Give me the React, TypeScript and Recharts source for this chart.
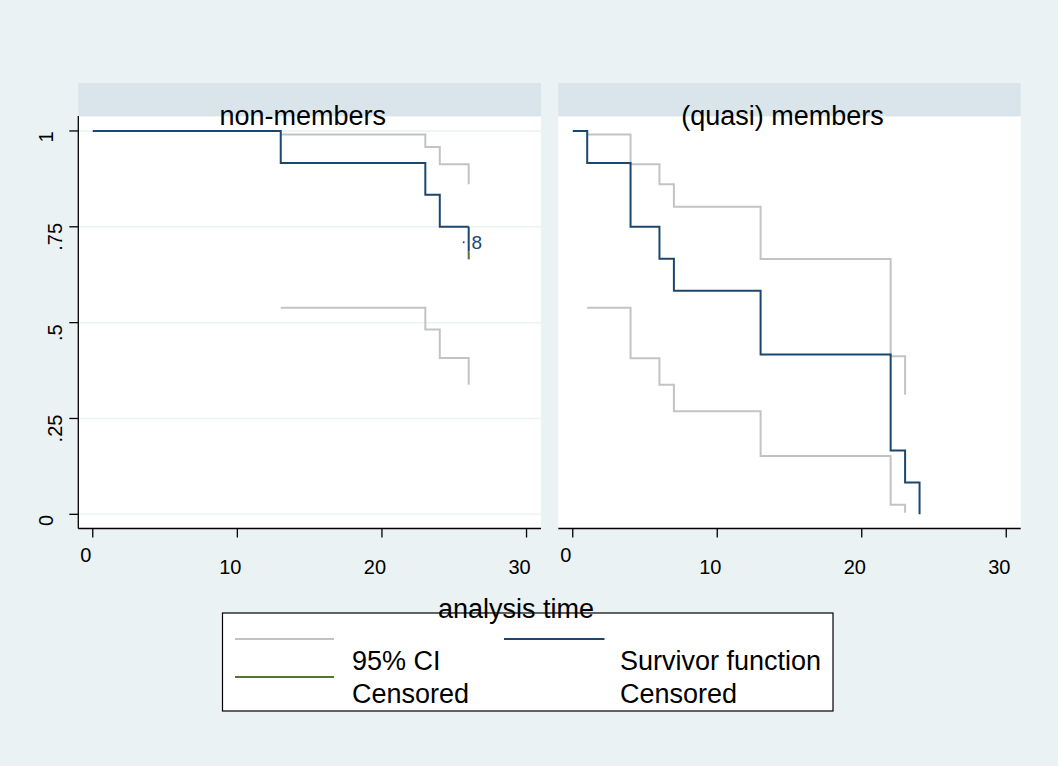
import React from 'react';
import { ComposedChart, Line, XAxis, YAxis, CartesianGrid, Scatter } from 'recharts';

// ---------- data ----------
const xTicks = [0, 10, 20, 30];
const yTicks = [0, 0.25, 0.5, 0.75, 1];
const yTickLabels = ['0', '.25', '.5', '.75', '1'];
const panelTitles = ['non-members', '(quasi) members'];
const xAxisTitle = 'analysis time';

// non-members
const leftSurvTimes = [0, 13, 23, 24, 26];
const leftSurvValues = [1, 0.9167, 0.8333, 0.75, 0.75];
const leftUpperTimes = [13, 23, 24, 26];
const leftUpperValues = [0.991, 0.958, 0.913, 0.861];
const leftLowerTimes = [13, 23, 24, 26];
const leftLowerValues = [0.539, 0.482, 0.408, 0.338];
const leftCensorTime = 26;
const leftCensorTickValues = [0.75, 0.686, 0.665];
const leftCensorLabelValue = 0.71;
const leftCensorCount = '8';

// (quasi) members
const rightSurvTimes = [0, 1, 4, 6, 7, 13, 22, 23, 24];
const rightSurvValues = [1, 0.9167, 0.75, 0.6667, 0.5833, 0.4167, 0.1667, 0.0833, 0];
const rightUpperTimes = [1, 4, 6, 7, 13, 22, 23];
const rightUpperValues = [0.991, 0.913, 0.861, 0.802, 0.666, 0.412, 0.312];
const rightLowerTimes = [1, 4, 6, 7, 13, 22, 23];
const rightLowerValues = [0.539, 0.407, 0.338, 0.269, 0.152, 0.025, 0.004];

const legendLabels = ['95% CI', 'Censored', 'Survivor function', 'Censored'];

// ---------- style ----------
const BG = '#EAF2F3';
const HEADER = '#D9E5EB';
const BLUE = '#1A476F';
const GRAY = '#C3C3C3';
const GREEN = '#55752F';
const FONT = '"Liberation Sans", Arial, Helvetica, sans-serif';

const pts = (ts: number[], vs: number[]) => ts.map((t, i) => ({ t, v: vs[i] }));

const XTick = (props: any) => {
  const { x, payload } = props;
  const first = payload.value === 0;
  return (
    <text x={x - 7} y={first ? 562 : 574} textAnchor="middle" fontSize={20} fontFamily={FONT} fill="#000">
      {payload.value}
    </text>
  );
};

const YTick = (props: any) => {
  const { y, payload } = props;
  const i = yTicks.indexOf(payload.value);
  const label = yTickLabels[i] ?? String(payload.value);
  const short = label.length === 1;
  const bx = short ? 53 : 62;
  const cy = y + (short ? 6 : 10);
  return (
    <text transform={`translate(${bx},${cy}) rotate(-90)`} textAnchor="middle" fontSize={20} fontFamily={FONT} fill="#000">
      {label}
    </text>
  );
};

const CensorShape = (props: any) => {
  const { cx, cy, payload } = props;
  return (
    <g>
      <circle cx={cx - 5} cy={cy} r={1} fill={BLUE} />
      <text x={cx + 8} y={cy + 7} textAnchor="middle" fontSize={19} fontFamily={FONT} fill={BLUE}>
        {payload.n}
      </text>
    </g>
  );
};

const Y_DOMAIN: [number, number] = [-0.037, 1.039];
const X_DOMAIN: [number, number] = [-1, 31];
const CH_H = 600;
const PLOT_TOP = 116;
const PLOT_BOTTOM = 528.5;
const XH = 40;

type PanelProps = {
  left: number;
  width: number;
  marginLeft: number;
  marginRight: number;
  showY: boolean;
  surv: { t: number; v: number }[];
  upper: { t: number; v: number }[];
  lower: { t: number; v: number }[];
  censor?: boolean;
};

const Panel = (p: PanelProps) => (
  <div style={{ position: 'absolute', left: p.left, top: 0 }}>
    <ComposedChart
      width={p.width}
      height={CH_H}
      margin={{ top: PLOT_TOP, right: p.marginRight, left: p.marginLeft, bottom: CH_H - PLOT_BOTTOM - XH }}
    >
      <CartesianGrid vertical={false} stroke={BG} strokeWidth={1.5} fill="#ffffff" fillOpacity={1} />
      <XAxis
        dataKey="t"
        type="number"
        domain={X_DOMAIN}
        ticks={xTicks}
        allowDataOverflow
        interval={0}
        height={XH}
        tickSize={9}
        tickLine={{ stroke: '#000', strokeWidth: 1.3 }}
        axisLine={{ stroke: '#000', strokeWidth: 1.3 }}
        tick={<XTick />}
      />
      {p.showY ? (
        <YAxis
          type="number"
          domain={Y_DOMAIN}
          ticks={yTicks}
          allowDataOverflow
          interval={0}
          width={60}
          tickSize={9}
          tickLine={{ stroke: '#000', strokeWidth: 1.3 }}
          axisLine={{ stroke: '#000', strokeWidth: 1.3 }}
          tick={<YTick />}
        />
      ) : (
        <YAxis
          type="number"
          domain={Y_DOMAIN}
          ticks={yTicks}
          allowDataOverflow
          interval={0}
          width={0}
          tick={false}
          tickLine={false}
          axisLine={false}
        />
      )}
      <Line data={p.upper} dataKey="v" type="stepAfter" stroke={GRAY} strokeWidth={2} dot={false} isAnimationActive={false} />
      <Line data={p.lower} dataKey="v" type="stepAfter" stroke={GRAY} strokeWidth={2} dot={false} isAnimationActive={false} />
      <Line data={p.surv} dataKey="v" type="stepAfter" stroke={BLUE} strokeWidth={2} dot={false} isAnimationActive={false} />
      {p.censor && (
        <Line
          data={pts([leftCensorTime, leftCensorTime], [leftCensorTickValues[0], leftCensorTickValues[1]])}
          dataKey="v"
          type="linear"
          stroke={BLUE}
          strokeWidth={2}
          dot={false}
          isAnimationActive={false}
        />
      )}
      {p.censor && (
        <Line
          data={pts([leftCensorTime, leftCensorTime], [leftCensorTickValues[1], leftCensorTickValues[2]])}
          dataKey="v"
          type="linear"
          stroke={GREEN}
          strokeWidth={2}
          dot={false}
          isAnimationActive={false}
        />
      )}
      {p.censor && (
        <Scatter
          data={[{ t: leftCensorTime, v: leftCensorLabelValue, n: leftCensorCount }]}
          dataKey="v"
          shape={<CensorShape />}
          isAnimationActive={false}
        />
      )}
    </ComposedChart>
  </div>
);

export default function App() {
  return (
    <div style={{ position: 'absolute', left: 0, top: 0, width: 1058, height: 766, background: BG, overflow: 'hidden', fontFamily: FONT }}>
      <Panel
        left={0}
        width={560}
        marginLeft={18.3}
        marginRight={19}
        showY
        surv={pts(leftSurvTimes, leftSurvValues)}
        upper={pts(leftUpperTimes, leftUpperValues)}
        lower={pts(leftLowerTimes, leftLowerValues)}
        censor
      />
      <Panel
        left={500}
        width={540}
        marginLeft={58.3}
        marginRight={19.3}
        showY={false}
        surv={pts(rightSurvTimes, rightSurvValues)}
        upper={pts(rightUpperTimes, rightUpperValues)}
        lower={pts(rightLowerTimes, rightLowerValues)}
      />
      <svg width={1058} height={766} style={{ position: 'absolute', left: 0, top: 0, pointerEvents: 'none' }}>
        <rect x={78.3} y={83} width={462.7} height={33} fill={HEADER} />
        <rect x={558.3} y={83} width={462.4} height={33} fill={HEADER} />
        <text x={302.7} y={125} textAnchor="middle" fontSize={27} fontFamily={FONT} fill="#000">{panelTitles[0]}</text>
        <text x={782.5} y={125} textAnchor="middle" fontSize={27} fontFamily={FONT} fill="#000">{panelTitles[1]}</text>
        <rect x={222.5} y={613} width={610.5} height={98} fill="#fff" stroke="#000" strokeWidth={1.2} />
        <text x={516} y={618} textAnchor="middle" fontSize={27} fontFamily={FONT} fill="#000">{xAxisTitle}</text>
        <line x1={235} x2={334} y1={639} y2={639} stroke={GRAY} strokeWidth={2} />
        <line x1={235} x2={334} y1={677} y2={677} stroke={GREEN} strokeWidth={2} />
        <line x1={504} x2={604.5} y1={639} y2={639} stroke={BLUE} strokeWidth={2} />
        <text x={352} y={670} fontSize={27} fontFamily={FONT} fill="#000">{legendLabels[0]}</text>
        <text x={352} y={703} fontSize={27} fontFamily={FONT} fill="#000">{legendLabels[1]}</text>
        <text x={620} y={670} fontSize={27} fontFamily={FONT} fill="#000">{legendLabels[2]}</text>
        <text x={620} y={703} fontSize={27} fontFamily={FONT} fill="#000">{legendLabels[3]}</text>
      </svg>
    </div>
  );
}
